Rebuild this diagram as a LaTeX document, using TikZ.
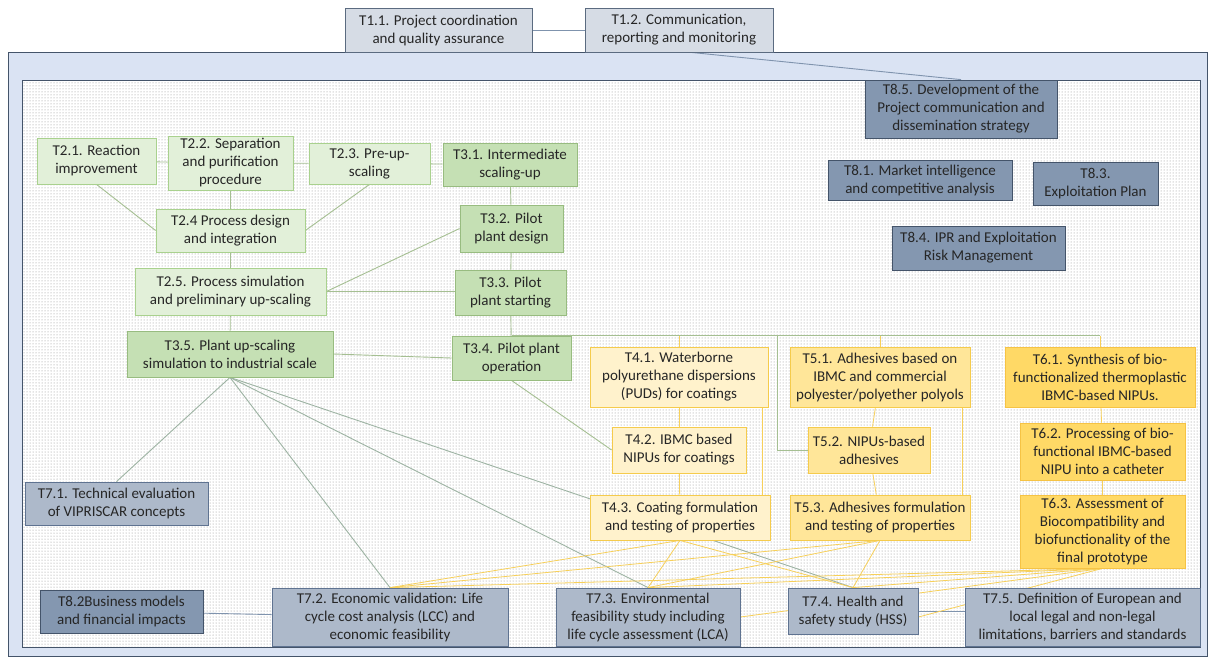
\documentclass[tikz,border=0pt]{standalone}
\usepackage{fontspec}
\setmainfont{Carlito}
\usepackage{tikz}
\usetikzlibrary{shapes, arrows, calc, positioning, patterns}

\definecolor{panelfill}{HTML}{DAE3F3}
\definecolor{paneldraw}{HTML}{44546A}
\definecolor{dotgray}{HTML}{8C8C8C}
\definecolor{mgfill}{HTML}{D6DCE5}
\definecolor{mgdraw}{HTML}{5B6B80}
\definecolor{exfill}{HTML}{8497B0}
\definecolor{vafill}{HTML}{ADB9CA}
\definecolor{bluedraw}{HTML}{5F7391}
\definecolor{lgfill}{HTML}{E2F0D9}
\definecolor{dgfill}{HTML}{C5E0B4}
\definecolor{greendraw}{HTML}{A9D18E}
\definecolor{ltyfill}{HTML}{FFF2CC}
\definecolor{mdyfill}{HTML}{FFE699}
\definecolor{dkyfill}{HTML}{FFD966}
\definecolor{ydraw}{HTML}{F5CB4C}
\definecolor{glink}{HTML}{A5BF92}
\definecolor{blink}{HTML}{7F93AD}
\definecolor{slink}{HTML}{9DB3A3}
\definecolor{ylink}{HTML}{F7D05A}

\pgfdeclarelayer{back}
\pgfdeclarelayer{wires}
\pgfsetlayers{back,wires,main}

\begin{document}
\begin{tikzpicture}[x=1pt, y=-1pt, font=\fontsize{15}{18}\selectfont]
    \tikzstyle{task} = [draw, align=center, inner sep=0pt, text=black!85,
	line width=0.8pt]
    \tikzstyle{mgmt} = [task, fill=mgfill, draw=mgdraw]
    \tikzstyle{exploit} = [task, fill=exfill, draw=paneldraw]
    \tikzstyle{valid} = [task, fill=vafill, draw=bluedraw]
    \tikzstyle{lightgreen} = [task, fill=lgfill, draw=greendraw]
    \tikzstyle{darkgreen} = [task, fill=dgfill, draw=greendraw!90!black]
    \tikzstyle{lightyellow} = [task, fill=ltyfill, draw=ydraw]
    \tikzstyle{midyellow} = [task, fill=mdyfill, draw=ydraw]
    \tikzstyle{darkyellow} = [task, fill=dkyfill, draw=ydraw!90!orange]
    \tikzstyle{glinks} = [draw=glink, line width=0.9pt]
    \tikzstyle{blinks} = [draw=blink, line width=0.9pt]
    \tikzstyle{slinks} = [draw=slink, line width=0.9pt]
    \tikzstyle{ylinks} = [draw=ylink, line width=0.8pt]

	\useasboundingbox (0,0) rectangle (1210,662);

	% panel and dotted field
	\begin{pgfonlayer}{back}
		\draw[fill=panelfill, draw=paneldraw, line width=0.8pt] (8,52) rectangle (1207,656);
		\fill[white] (22,80) rectangle (1200,647);
		\fill[pattern=dots, pattern color=dotgray] (22,80) rectangle (1200,647);
		\draw[paneldraw, line width=0.8pt] (22,80) rectangle (1200,647);
	\end{pgfonlayer}

	% WP1 and WP8
	\path
		node[mgmt, minimum width=187, minimum height=44] (t11) at (438.5,30)
			{T1.1. Project coordination\\and quality assurance}
		node[mgmt, minimum width=188, minimum height=44] (t12) at (679,30)
			{T1.2. Communication,\\reporting and monitoring}
		node[exploit, minimum width=192, minimum height=58] (t85) at (961,109)
			{T8.5. Development of the\\Project communication and\\dissemination strategy}
		node[exploit, minimum width=184, minimum height=40] (t81) at (920,180)
			{T8.1. Market intelligence\\and competitive analysis}
		node[exploit, minimum width=125, minimum height=43] (t83) at (1095.5,183.5)
			{T8.3.\\Exploitation Plan}
		node[exploit, minimum width=173, minimum height=44] (t84) at (978.5,248)
			{T8.4. IPR and Exploitation\\Risk Management}
		node[exploit, minimum width=163, minimum height=43] (t82) at (121.5,611.5)
			{T8.2Business models\\and financial impacts}
	;

	% WP2 and WP3
	\path
		node[lightgreen, minimum width=119, minimum height=46] (t21) at (96.5,161)
			{T2.1. Reaction\\improvement}
		node[lightgreen, minimum width=125, minimum height=54] (t22) at (230.5,163)
			{T2.2. Separation\\and purification\\procedure}
		node[lightgreen, minimum width=121, minimum height=41] (t23) at (369.5,163.5)
			{T2.3. Pre-up-\\scaling}
		node[darkgreen, minimum width=134, minimum height=43] (t31) at (510,164.5)
			{T3.1. Intermediate\\scaling-up}
		node[lightgreen, minimum width=149, minimum height=43] (t24) at (230.5,230.5)
			{T2.4 Process design\\and integration}
		node[darkgreen, minimum width=103, minimum height=47] (t32) at (511.5,228.5)
			{T3.2. Pilot\\plant design}
		node[lightgreen, minimum width=191, minimum height=47] (t25) at (230.5,291.5)
			{T2.5. Process simulation\\and preliminary up-scaling}
		node[darkgreen, minimum width=111, minimum height=45] (t33) at (510.5,292.5)
			{T3.3. Pilot\\plant starting}
		node[darkgreen, minimum width=206, minimum height=46] (t35) at (230,354)
			{T3.5. Plant up-scaling\\simulation to industrial scale}
		node[darkgreen, minimum width=119, minimum height=44] (t34) at (511.5,358)
			{T3.4. Pilot plant\\operation}
	;

	% WP4, WP5 and WP6
	\path
		node[lightyellow, minimum width=178, minimum height=60] (t41) at (679,377)
			{T4.1. Waterborne\\polyurethane dispersions\\(PUDs) for coatings}
		node[midyellow, minimum width=180, minimum height=60] (t51) at (880,377)
			{T5.1. Adhesives based on\\IBMC and commercial\\polyester/polyether polyols}
		node[darkyellow, minimum width=190, minimum height=60] (t61) at (1100,377)
			{T6.1. Synthesis of bio-\\functionalized thermoplastic\\IBMC-based NIPUs.}
		node[lightyellow, minimum width=134, minimum height=46] (t42) at (679,450)
			{T4.2. IBMC based\\NIPUs for coatings}
		node[midyellow, minimum width=122, minimum height=46] (t52) at (869,450)
			{T5.2. NIPUs-based\\adhesives}
		node[darkyellow, minimum width=165, minimum height=57] (t62) at (1102.5,451.5)
			{T6.2. Processing of bio-\\functional IBMC-based\\NIPU into a catheter}
		node[lightyellow, minimum width=180, minimum height=45] (t43) at (680,517.5)
			{T4.3. Coating formulation\\and testing of properties}
		node[midyellow, minimum width=180, minimum height=45] (t53) at (880,517.5)
			{T5.3. Adhesives formulation\\and testing of properties}
		node[darkyellow, minimum width=165, minimum height=73] (t63) at (1102.5,531.5)
			{T6.3. Assessment of\\Biocompatibility and\\biofunctionality of the\\final prototype}
	;

	% WP7
	\path
		node[valid, minimum width=183, minimum height=43] (t71) at (116.5,503.5)
			{T7.1. Technical evaluation\\of VIPRISCAR concepts}
		node[valid, minimum width=236, minimum height=58] (t72) at (390,617)
			{T7.2. Economic validation: Life\\cycle cost analysis (LCC) and\\economic feasibility}
		node[valid, minimum width=184, minimum height=58] (t73) at (648,617)
			{T7.3. Environmental\\feasibility study including\\life cycle assessment (LCA)}
		node[valid, minimum width=130, minimum height=46] (t74) at (853,611)
			{T7.4. Health and\\safety study (HSS)}
		node[valid, minimum width=235, minimum height=58] (t75) at (1082.5,617)
			{T7.5. Definition of European and\\local legal and non-legal\\limitations, barriers and standards}
	;

	\begin{pgfonlayer}{wires}
		% management links
		\path[blinks]
			(t11) edge (t12)
			([xshift=12]t12.south) edge (t85.north)
			(t82) edge (t72)
			(t74.east) edge (t74.east -| t75.west)
		;
		% process chain
		\path[glinks]
			(t21) edge (t22)
			(t22) edge (t23)
			(t23) edge (t31)
			(t21.south) edge (t24.west)
			(t22) edge (t24)
			(t23.south) edge (t24.east)
			(t31) edge (t32)
			(t24) edge (t25)
			(t32.west) edge (t25.east)
			(t25.east) edge (t25.east -| t33.west)
			(t32) edge (t33)
			(t25) edge (t35)
			(t33) edge (t34)
			(t35.east) edge (t34.west)
			(t34.south) edge (t42.west)
		;
		\draw[glinks] (t34.north) -- (t34.north -| t61.north);
		\draw[glinks] (t52.west) -- ++(-30,0) |- (t34.north);
		% scale-up towards validation
		\path[slinks]
			(t35.south) edge (t71.north)
			(t35.south) edge (t72.north)
			(t35.south) edge (t73.north)
			(t35.south) edge (t74.north)
		;
		% applications
		\path[ylinks]
			(t41.north |- t34.north) edge (t41.north)
			(t51.north |- t34.north) edge (t51.north)
			(t61.north |- t34.north) edge (t61.north)
			(t41) edge (t42)
			(t42) edge (t43)
			(t51) edge (t52)
			(t52) edge (t53)
			(t61) edge (t62)
			(t62) edge (t63)
			([xshift=-6]t41.south east) edge ([xshift=-6]t41.south east |- t43.north)
			([xshift=-8]t51.south east) edge ([xshift=-8]t51.south east |- t53.north)
		;
		% applications to validation
		\foreach \src in {t43, t53, t63}
			\foreach \dst in {t72, t73, t74}
				\draw[ylinks] (\src.south) -- (\dst.north);
		\path[ylinks]
			(t73.east) edge (t63.south)
			([yshift=-6]t74.east) edge (t63.south)
		;
	\end{pgfonlayer}
\end{tikzpicture}
\end{document}
